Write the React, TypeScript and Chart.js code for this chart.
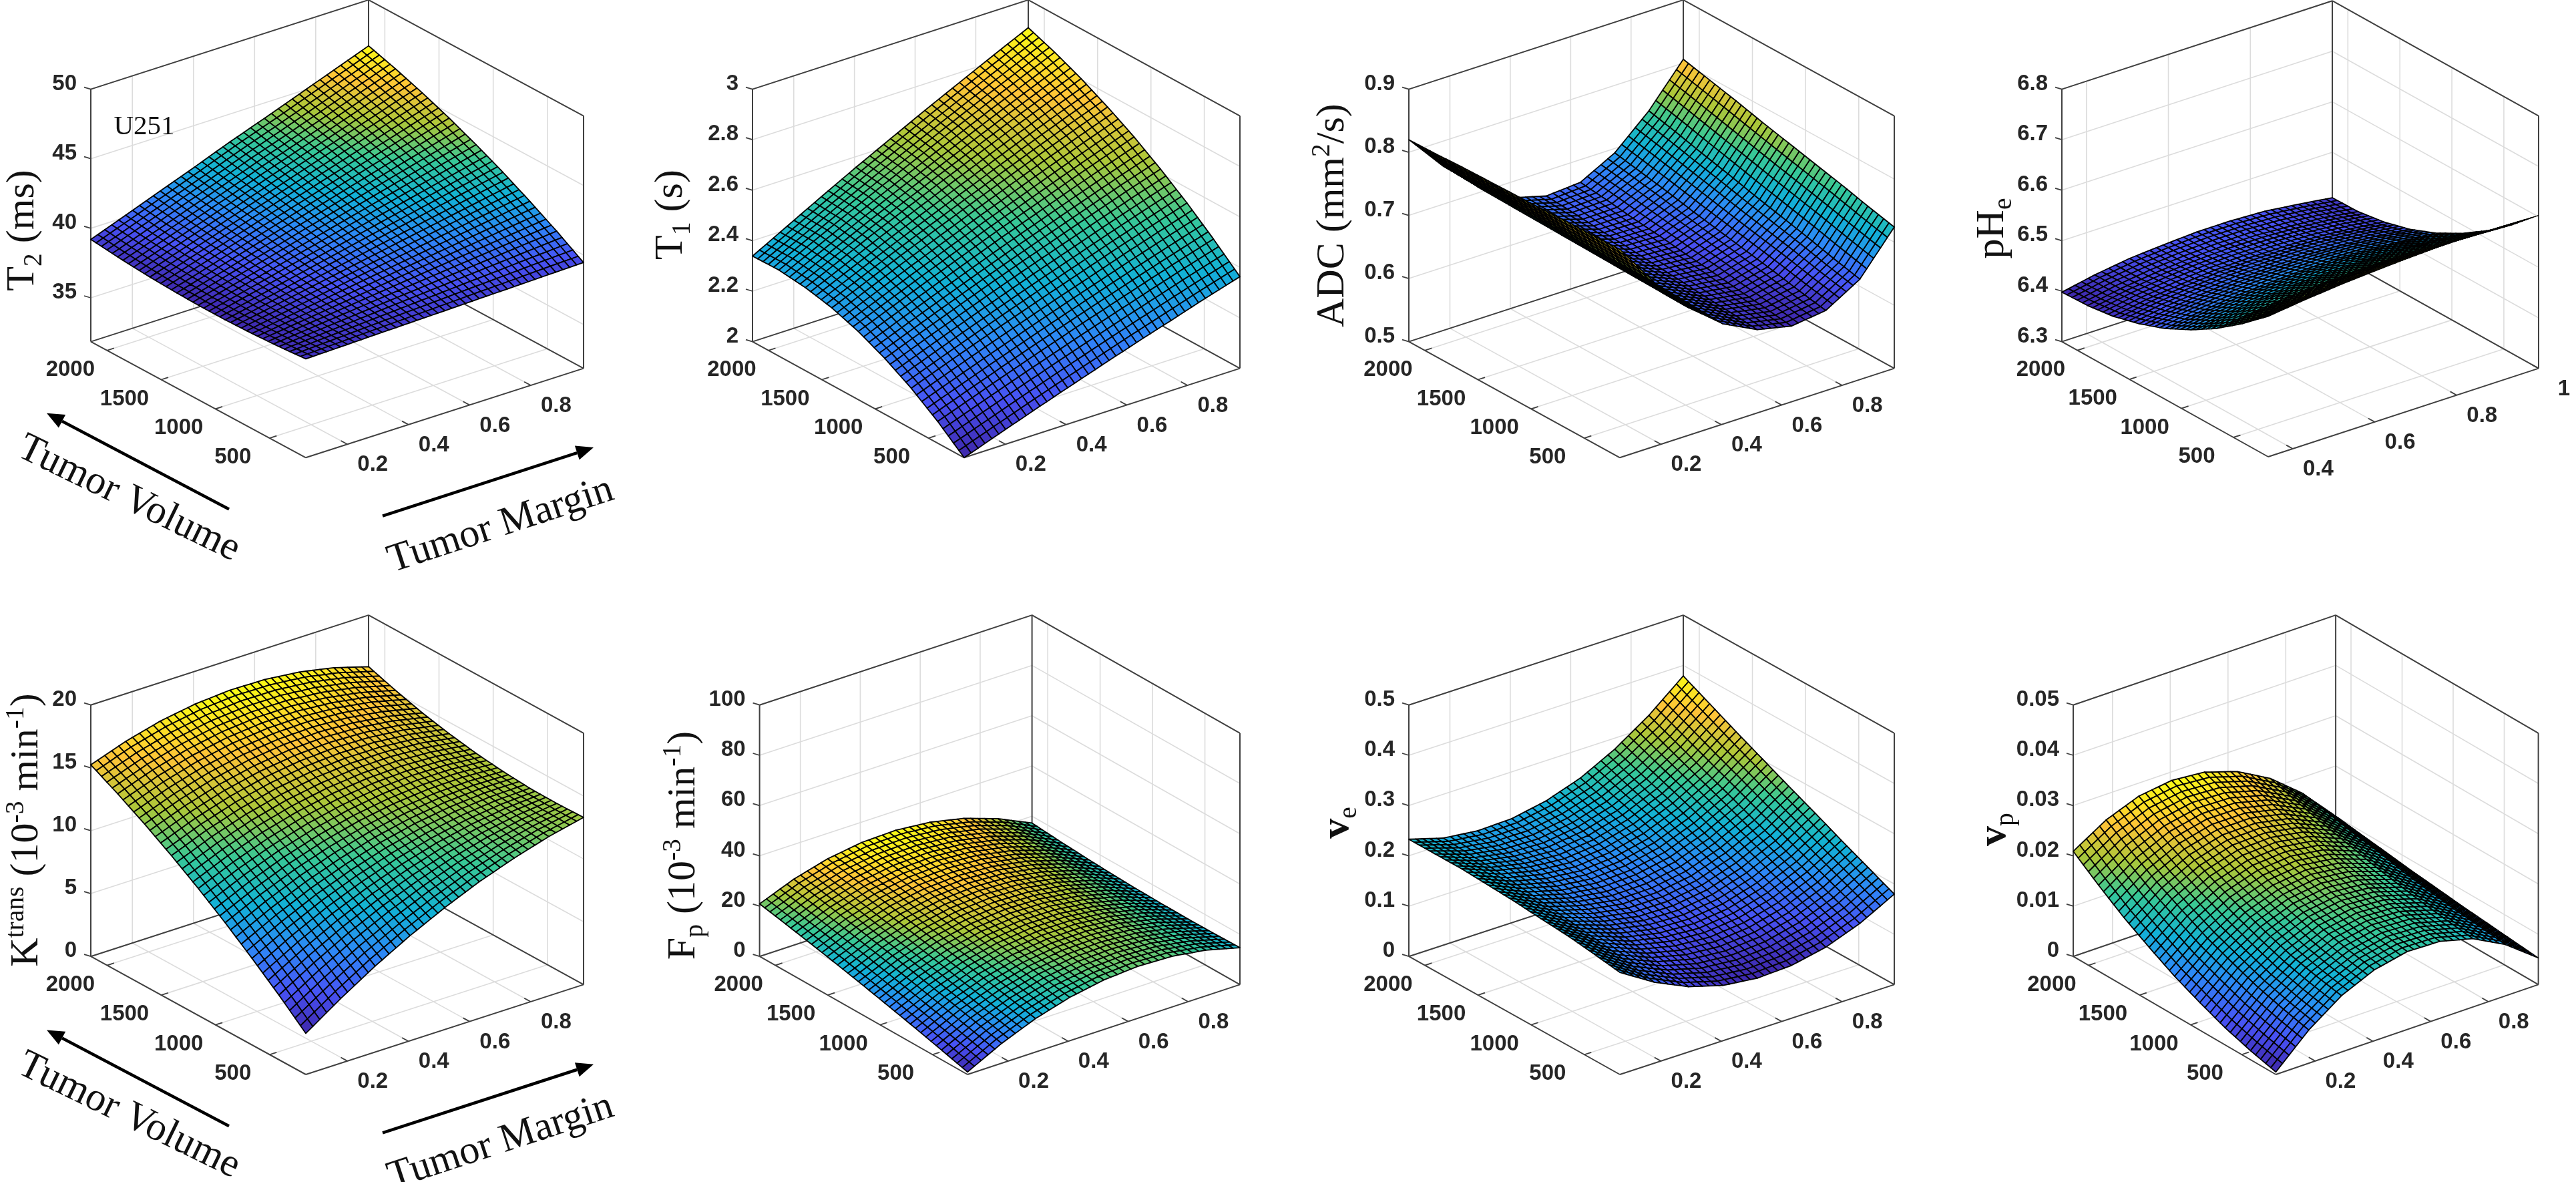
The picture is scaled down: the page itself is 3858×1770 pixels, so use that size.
import React, { useEffect, useRef } from "react";
import { Chart, registerables } from "chart.js";

Chart.register(...registerables);

// ---------- data (rows: smallest volume -> largest, columns: smallest margin -> largest) ----------
const volumeGrid = [166, 414, 662, 910, 1158, 1406, 1654, 1902, 2150];
const marginGrid = [0.064, 0.178, 0.291, 0.405, 0.519, 0.632, 0.746, 0.859, 0.973];
const phMarginGrid = [0.34, 0.42, 0.505, 0.587, 0.67, 0.752, 0.835, 0.917, 1.0];

const volumeTicks = [500, 1000, 1500, 2000];
const marginTicks = [0.2, 0.4, 0.6, 0.8];
const phMarginTicks = [0.4, 0.6, 0.8, 1];

const t2Ticks = [35, 40, 45, 50];
const t1Ticks = [2, 2.2, 2.4, 2.6, 2.8, 3];
const adcTicks = [0.5, 0.6, 0.7, 0.8, 0.9];
const phTicks = [6.3, 6.4, 6.5, 6.6, 6.7, 6.8];
const ktransTicks = [0, 5, 10, 15, 20];
const fpTicks = [0, 20, 40, 60, 80, 100];
const veTicks = [0, 0.1, 0.2, 0.3, 0.4, 0.5];
const vpTicks = [0, 0.01, 0.02, 0.03, 0.04, 0.05];

const t2Values = [
  [38.95, 39.01, 39.08, 39.14, 39.2, 39.27, 39.33, 39.4, 39.46],
  [38.79, 39.03, 39.26, 39.5, 39.73, 39.97, 40.2, 40.44, 40.67],
  [38.69, 39.08, 39.46, 39.85, 40.24, 40.62, 41.01, 41.39, 41.78],
  [38.63, 39.16, 39.68, 40.21, 40.74, 41.26, 41.78, 42.3, 42.82],
  [38.64, 39.29, 39.93, 40.58, 41.22, 41.86, 42.5, 43.12, 43.76],
  [38.7, 39.45, 40.2, 40.95, 41.69, 42.43, 43.17, 43.9, 44.63],
  [38.81, 39.64, 40.46, 41.3, 42.14, 42.96, 43.78, 44.59, 45.4],
  [38.98, 39.87, 40.76, 41.65, 42.58, 43.42, 44.3, 45.2, 46.09],
  [39.2, 40.14, 41.08, 42.02, 43.0, 43.89, 44.83, 45.76, 46.7],
];
const t1Values = [
  [2.0, 2.049, 2.097, 2.144, 2.19, 2.235, 2.278, 2.322, 2.363],
  [2.086, 2.136, 2.185, 2.233, 2.28, 2.325, 2.37, 2.413, 2.455],
  [2.16, 2.212, 2.262, 2.311, 2.359, 2.405, 2.452, 2.496, 2.54],
  [2.221, 2.275, 2.327, 2.379, 2.429, 2.477, 2.525, 2.572, 2.617],
  [2.27, 2.326, 2.381, 2.435, 2.489, 2.539, 2.59, 2.639, 2.687],
  [2.306, 2.366, 2.425, 2.482, 2.538, 2.592, 2.646, 2.698, 2.748],
  [2.329, 2.393, 2.457, 2.518, 2.578, 2.636, 2.694, 2.749, 2.803],
  [2.341, 2.41, 2.477, 2.543, 2.607, 2.67, 2.732, 2.791, 2.85],
  [2.339, 2.413, 2.486, 2.558, 2.627, 2.695, 2.761, 2.826, 2.89],
];
const adcValues = [
  [0.83, 0.76, 0.702, 0.659, 0.632, 0.62, 0.627, 0.659, 0.724],
  [0.829, 0.76, 0.703, 0.661, 0.636, 0.626, 0.635, 0.669, 0.734],
  [0.828, 0.76, 0.704, 0.663, 0.639, 0.631, 0.644, 0.68, 0.745],
  [0.826, 0.76, 0.705, 0.665, 0.643, 0.637, 0.652, 0.69, 0.755],
  [0.825, 0.76, 0.706, 0.667, 0.646, 0.642, 0.66, 0.7, 0.765],
  [0.824, 0.76, 0.707, 0.669, 0.65, 0.648, 0.668, 0.711, 0.775],
  [0.823, 0.76, 0.708, 0.671, 0.653, 0.653, 0.677, 0.721, 0.786],
  [0.821, 0.76, 0.709, 0.673, 0.657, 0.659, 0.685, 0.732, 0.796],
  [0.82, 0.76, 0.71, 0.675, 0.66, 0.664, 0.693, 0.742, 0.806],
];
const phValues = [
  [6.578, 6.586, 6.593, 6.598, 6.602, 6.605, 6.606, 6.605, 6.603],
  [6.535, 6.544, 6.55, 6.556, 6.559, 6.561, 6.561, 6.559, 6.556],
  [6.497, 6.505, 6.513, 6.518, 6.521, 6.523, 6.522, 6.52, 6.516],
  [6.466, 6.475, 6.483, 6.488, 6.491, 6.492, 6.491, 6.487, 6.482],
  [6.44, 6.45, 6.458, 6.463, 6.466, 6.467, 6.465, 6.46, 6.454],
  [6.421, 6.432, 6.44, 6.446, 6.448, 6.449, 6.446, 6.441, 6.433],
  [6.407, 6.419, 6.427, 6.433, 6.435, 6.435, 6.433, 6.427, 6.419],
  [6.4, 6.412, 6.421, 6.427, 6.43, 6.43, 6.426, 6.421, 6.411],
  [6.398, 6.411, 6.421, 6.426, 6.43, 6.43, 6.427, 6.419, 6.41],
];
const ktransValues = [
  [3.27, 5.14, 6.84, 8.36, 9.7, 10.87, 11.85, 12.67, 13.3],
  [5.14, 6.8, 8.29, 9.58, 10.68, 11.6, 12.34, 12.88, 13.24],
  [6.89, 8.38, 9.68, 10.76, 11.66, 12.36, 12.86, 13.16, 13.27],
  [8.55, 9.87, 10.99, 11.91, 12.63, 13.14, 13.44, 13.54, 13.44],
  [10.1, 11.3, 12.29, 13.06, 13.62, 13.96, 14.09, 14.0, 13.7],
  [11.54, 12.65, 13.53, 14.18, 14.61, 14.81, 14.8, 14.56, 14.09],
  [12.88, 13.91, 14.71, 15.28, 15.61, 15.71, 15.56, 15.18, 14.57],
  [14.11, 15.1, 15.84, 16.35, 16.6, 16.62, 16.38, 15.91, 15.19],
  [15.24, 16.21, 16.93, 17.39, 17.6, 17.55, 17.26, 16.71, 15.9],
];
const fpValues = [
  [1, 7.89, 13.32, 17.25, 19.7, 20.67, 20.17, 18.17, 14.7],
  [3.86, 10.45, 15.53, 19.11, 21.18, 21.76, 20.83, 18.4, 14.46],
  [6.62, 12.92, 17.7, 20.95, 22.68, 22.88, 21.57, 18.73, 14.37],
  [9.26, 15.31, 19.82, 22.79, 24.21, 24.09, 22.42, 19.21, 14.46],
  [11.8, 17.64, 21.92, 24.63, 25.77, 25.35, 23.37, 19.82, 14.7],
  [14.24, 19.9, 23.98, 26.47, 27.36, 26.68, 24.41, 20.55, 15.11],
  [16.57, 22.09, 26, 28.29, 28.98, 28.07, 25.55, 21.41, 15.67],
  [18.78, 24.18, 27.96, 30.11, 30.63, 29.52, 26.77, 22.41, 16.41],
  [20.9, 26.23, 29.9, 31.93, 32.3, 31.03, 28.1, 23.53, 17.3],
];
const veValues = [
  [0.203, 0.161, 0.13, 0.11, 0.102, 0.105, 0.119, 0.144, 0.18],
  [0.211, 0.171, 0.142, 0.124, 0.118, 0.123, 0.139, 0.166, 0.204],
  [0.218, 0.18, 0.154, 0.139, 0.134, 0.141, 0.159, 0.188, 0.228],
  [0.222, 0.187, 0.164, 0.151, 0.149, 0.158, 0.179, 0.21, 0.253],
  [0.227, 0.194, 0.174, 0.163, 0.164, 0.175, 0.199, 0.232, 0.277],
  [0.23, 0.201, 0.183, 0.175, 0.179, 0.193, 0.219, 0.255, 0.302],
  [0.233, 0.207, 0.192, 0.186, 0.193, 0.21, 0.239, 0.277, 0.327],
  [0.233, 0.21, 0.198, 0.196, 0.206, 0.226, 0.258, 0.3, 0.353],
  [0.233, 0.213, 0.205, 0.207, 0.22, 0.243, 0.278, 0.323, 0.379],
];
const vpValues = [
  [0.0005, 0.0066, 0.0112, 0.0141, 0.0155, 0.0153, 0.0136, 0.0102, 0.0053],
  [0.0018, 0.0078, 0.0122, 0.015, 0.0163, 0.016, 0.0142, 0.0108, 0.0058],
  [0.0034, 0.0092, 0.0134, 0.0162, 0.0173, 0.0169, 0.0149, 0.0113, 0.0063],
  [0.0055, 0.0111, 0.0151, 0.0176, 0.0185, 0.0179, 0.0158, 0.012, 0.0068],
  [0.0078, 0.0131, 0.017, 0.0192, 0.02, 0.0191, 0.0168, 0.0128, 0.0074],
  [0.0106, 0.0157, 0.0192, 0.0212, 0.0216, 0.0206, 0.018, 0.0139, 0.008],
  [0.0136, 0.0184, 0.0216, 0.0233, 0.0234, 0.0221, 0.0192, 0.0147, 0.0087],
  [0.0171, 0.0215, 0.0244, 0.0257, 0.0255, 0.0238, 0.0205, 0.0158, 0.0094],
  [0.0209, 0.0249, 0.0274, 0.0283, 0.0277, 0.0256, 0.022, 0.0168, 0.0101],
];

// ---------- layout ----------
const W = 3858;
const H = 1770;
const HATCH = 5; // mesh lines hatched inside each typed cell
const PARULA = [
  [62, 38, 168], [72, 82, 244], [46, 135, 247], [18, 177, 214],
  [55, 200, 151], [171, 199, 57], [254, 195, 56], [249, 251, 21],
];
const SERIF = '"Liberation Serif", serif';
const SANS = '"Liberation Sans", sans-serif';

type Seg = [string, string?];
const panels: any[] = [
  { values: t2Values, zMin: 31.85, zMax: 50, zTicks: t2Ticks, box: [0, 0, 960, 880], F: [458, 685.3], R: [874, 551.6], L: [136, 511.6], H: 378, label: [["T"], ["2", "sub"], [" (ms)"]], labelAt: [31, 345], note: true, arrows: true, mX: marginGrid, mT: marginTicks, mMin: 0.064, mMax: 0.973 },
  { values: t1Values, zMin: 2, zMax: 3, zTicks: t1Ticks, box: [960, 0, 960, 880], F: [1444, 685.3], R: [1857, 551.6], L: [1127, 511.6], H: 378, label: [["T"], ["1", "sub"], [" (s)"]], labelAt: [1002, 321.5], mX: marginGrid, mT: marginTicks, mMin: 0.064, mMax: 0.973 },
  { values: adcValues, zMin: 0.5, zMax: 0.9, zTicks: adcTicks, box: [1920, 0, 960, 880], F: [2426, 685.3], R: [2837, 551.6], L: [2110, 511.6], H: 378, label: [["ADC (mm"], ["2", "sup"], ["/s)"]], labelAt: [1993, 322.6], mX: marginGrid, mT: marginTicks, mMin: 0.064, mMax: 0.973 },
  { values: phValues, zMin: 6.3, zMax: 6.8, zTicks: phTicks, box: [2880, 0, 978, 880], F: [3397, 684], R: [3802, 551.6], L: [3088, 511.6], H: 378, label: [["pH"], ["e", "sub"]], labelAt: [2981, 342], mX: phMarginGrid, mT: phMarginTicks, mMin: 0.34, mMax: 1.0 },
  { values: ktransValues, zMin: 0, zMax: 20, zTicks: ktransTicks, box: [0, 880, 960, 890], F: [458, 1609], R: [874, 1474.4], L: [136, 1432.2], H: 376.5, label: [["K"], ["trans", "sup"], [" (10"], ["-3", "sup"], [" min"], ["-1", "sup"], [")"]], labelAt: [37, 1243], arrows: true, mX: marginGrid, mT: marginTicks, mMin: 0.064, mMax: 0.973 },
  { values: fpValues, zMin: 0, zMax: 100, zTicks: fpTicks, box: [960, 880, 960, 890], F: [1449, 1609], R: [1857, 1474.4], L: [1137.6, 1432.2], H: 376.5, label: [["F"], ["p", "sub"], [" (10"], ["-3", "sup"], [" min"], ["-1", "sup"], [")"]], labelAt: [1021, 1266], mX: marginGrid, mT: marginTicks, mMin: 0.064, mMax: 0.973 },
  { values: veValues, zMin: 0, zMax: 0.5, zTicks: veTicks, box: [1920, 880, 960, 890], F: [2426, 1609], R: [2837, 1474.4], L: [2110, 1432.2], H: 376.5, label: [["v", "bold"], ["e", "sub"]], labelAt: [2000, 1232], mX: marginGrid, mT: marginTicks, mMin: 0.064, mMax: 0.973 },
  { values: vpValues, zMin: 0, zMax: 0.05, zTicks: vpTicks, box: [2880, 880, 978, 890], F: [3408.5, 1609], R: [3801.6, 1474.4], L: [3105, 1432.2], H: 376.5, label: [["v", "bold"], ["p", "sub"]], labelAt: [2984, 1242], mX: marginGrid, mT: marginTicks, mMin: 0.064, mMax: 0.973 },
];

function parula(f: number) {
  const t = Math.max(0, Math.min(1, f)) * (PARULA.length - 1);
  const i = Math.min(PARULA.length - 2, Math.floor(t));
  const a = PARULA[i], b = PARULA[i + 1], k = t - i;
  return `rgb(${a[0] + (b[0] - a[0]) * k},${a[1] + (b[1] - a[1]) * k},${a[2] + (b[2] - a[2]) * k})`;
}

function drawRich(ctx: any, segs: Seg[], size: number) {
  const part = segs.map(([text, kind]) => {
    const s = kind === "sub" || kind === "sup" ? size * 0.66 : size;
    const font = `${kind === "bold" ? "bold " : ""}${s}px ${SERIF}`;
    ctx.font = font;
    return { text, kind, font, w: ctx.measureText(text).width };
  });
  const total = part.reduce((a, p) => a + p.w, 0);
  let x = -total / 2;
  part.forEach((p) => {
    ctx.font = p.font;
    const dy = p.kind === "sub" ? size * 0.2 : p.kind === "sup" ? -size * 0.36 : 0;
    ctx.fillText(p.text, x, size * 0.32 + dy);
    x += p.w;
  });
}

function arrow(ctx: any, tail: number[], head: number[]) {
  const ang = Math.atan2(head[1] - tail[1], head[0] - tail[0]);
  const len = 26, hw = 11;
  const bx = head[0] - Math.cos(ang) * len, by = head[1] - Math.sin(ang) * len;
  ctx.strokeStyle = "#000";
  ctx.lineWidth = 4.5;
  ctx.beginPath();
  ctx.moveTo(tail[0], tail[1]);
  ctx.lineTo(bx, by);
  ctx.stroke();
  ctx.fillStyle = "#000";
  ctx.beginPath();
  ctx.moveTo(head[0], head[1]);
  ctx.lineTo(bx - Math.sin(ang) * hw, by + Math.cos(ang) * hw);
  ctx.lineTo(bx + Math.sin(ang) * hw, by - Math.cos(ang) * hw);
  ctx.closePath();
  ctx.fill();
}

const surfacePlugin = {
  id: "surface3d",
  afterDraw(chart: any) {
    const p = chart.options.plugins.surface3d.panel;
    const { ctx, scales } = chart;
    const dec = (s: any, v: number) => s.getDecimalForPixel(s.getPixelForValue(v));
    const du = [p.R[0] - p.F[0], p.R[1] - p.F[1]];
    const dt = [p.L[0] - p.F[0], p.L[1] - p.F[1]];
    // u, t, w are fractions of the margin, volume and value axes
    const at = (u: number, t: number, w: number) => [p.F[0] + u * du[0] + t * dt[0], p.F[1] + u * du[1] + t * dt[1] - w * p.H];
    const U = (m: number) => dec(scales.x, m);
    const T = (v: number) => dec(scales.v, v);
    const Z = (z: number) => dec(scales.y, z);
    const line = (a: number[], b: number[]) => { ctx.beginPath(); ctx.moveTo(a[0], a[1]); ctx.lineTo(b[0], b[1]); ctx.stroke(); };

    ctx.save();
    ctx.translate(-p.box[0], -p.box[1]);
    ctx.lineCap = "butt";

    // grid on the two walls and the floor
    ctx.strokeStyle = "#dcdcdc";
    ctx.lineWidth = 1.6;
    p.mT.forEach((m: number) => {
      const u = U(m);
      line(at(u, 0, 0), at(u, 1, 0));
      line(at(u, 1, 0), at(u, 1, 1));
    });
    volumeTicks.forEach((v) => {
      const t = T(v);
      line(at(0, t, 0), at(1, t, 0));
      line(at(1, t, 0), at(1, t, 1));
    });
    p.zTicks.forEach((z: number) => {
      const w = Z(z);
      line(at(0, 1, w), at(1, 1, w));
      line(at(1, 1, w), at(1, 0, w));
    });

    // box edges
    ctx.strokeStyle = "#404040";
    ctx.lineWidth = 2;
    [
      [0, 1, 0, 0, 1, 1], [1, 0, 0, 1, 0, 1], [1, 1, 0, 1, 1, 1],
      [0, 1, 1, 1, 1, 1], [1, 1, 1, 1, 0, 1],
      [0, 1, 0, 0, 0, 0], [0, 0, 0, 1, 0, 0],
      [0, 1, 0, 1, 1, 0], [1, 1, 0, 1, 0, 0],
    ].forEach((e) => line(at(e[0], e[1], e[2]), at(e[3], e[4], e[5])));

    // ticks
    ctx.lineWidth = 1.8;
    const ulen = Math.hypot(du[0], du[1]), tlen = Math.hypot(dt[0], dt[1]);
    ctx.fillStyle = "#262626";
    ctx.font = `bold 33px ${SANS}`;
    ctx.textBaseline = "middle";
    p.zTicks.forEach((z: number) => {
      const a = at(0, 1, Z(z));
      line(a, [a[0] - 10, a[1] - 3]);
      ctx.textAlign = "right";
      ctx.fillText(String(z), a[0] - 21, a[1] - 8);
    });
    ctx.textAlign = "center";
    volumeTicks.forEach((v) => {
      const a = at(0, T(v), 0);
      line(a, [a[0] + (du[0] / ulen) * 11, a[1] + (du[1] / ulen) * 11]);
      ctx.fillText(String(v), a[0] - 55, a[1] + 29);
    });
    p.mT.forEach((m: number) => {
      const a = at(U(m), 0, 0);
      line(a, [a[0] + (dt[0] / tlen) * 11, a[1] + (dt[1] / tlen) * 11]);
      ctx.fillText(String(m), a[0] + 38, a[1] + 31);
    });

    // surface: the library scales turn each point into axis fractions, drawn back to front
    const pts = chart.data.datasets[0].data;
    const n = p.values.length;
    const cell = (row: number, col: number) => pts[row * n + col];
    const zs = pts.map((q: any) => q.y);
    const lo = Math.min(...zs), hi = Math.max(...zs);
    ctx.strokeStyle = "#000";
    ctx.lineJoin = "round";
    for (let r = n - 2; r >= 0; r--) {
      for (let c = n - 2; c >= 0; c--) {
        const q00 = cell(r, c), q01 = cell(r, c + 1), q10 = cell(r + 1, c), q11 = cell(r + 1, c + 1);
        const u0 = U(q00.x), u1 = U(q01.x), t0 = T(q00.v), t1 = T(q10.v);
        const w00 = Z(q00.y), w01 = Z(q01.y), w10 = Z(q10.y), w11 = Z(q11.y);
        const sample = (a: number, b: number) => {
          const w = (w00 * (1 - a) + w01 * a) * (1 - b) + (w10 * (1 - a) + w11 * a) * b;
          return at(u0 + (u1 - u0) * a, t0 + (t1 - t0) * b, w);
        };
        const shade = (a: number, b: number) => ((q00.y * (1 - a) + q01.y * a) * (1 - b) + (q10.y * (1 - a) + q11.y * a) * b - lo) / (hi - lo);
        for (let i = HATCH - 1; i >= 0; i--) {
          for (let j = HATCH - 1; j >= 0; j--) {
            const b0 = i / HATCH, b1 = (i + 1) / HATCH, a0 = j / HATCH, a1 = (j + 1) / HATCH;
            const A = sample(a0, b0), B = sample(a1, b0), C = sample(a1, b1), D = sample(a0, b1);
            const area = Math.abs((C[0] - A[0]) * (D[1] - B[1]) - (D[0] - B[0]) * (C[1] - A[1])) / 2;
            ctx.lineWidth = Math.max(1, Math.min(1.8, Math.sqrt(area) * 0.35));
            ctx.beginPath();
            ctx.moveTo(A[0], A[1]);
            ctx.lineTo(B[0], B[1]);
            ctx.lineTo(C[0], C[1]);
            ctx.lineTo(D[0], D[1]);
            ctx.closePath();
            ctx.fillStyle = parula(shade((a0 + a1) / 2, (b0 + b1) / 2));
            ctx.fill();
            ctx.stroke();
          }
        }
      }
    }

    // value axis title
    ctx.save();
    ctx.fillStyle = "#111";
    ctx.textAlign = "left";
    ctx.textBaseline = "alphabetic";
    ctx.translate(p.labelAt[0], p.labelAt[1]);
    ctx.rotate(-Math.PI / 2);
    drawRich(ctx, p.label, 60);
    ctx.restore();

    if (p.note) {
      ctx.fillStyle = "#111";
      ctx.font = `41px ${SERIF}`;
      ctx.textAlign = "center";
      ctx.textBaseline = "middle";
      ctx.fillText("U251", 216, 190.6);
    }

    if (p.arrows) {
      const dy = p.F[1] - 685.3;
      arrow(ctx, [343, 762.5 + dy], [70, 618.7 + dy]);
      arrow(ctx, [573, 772.7 + dy], [889, 670 + dy]);
      ctx.fillStyle = "#111";
      ctx.font = `60px ${SERIF}`;
      ctx.textAlign = "center";
      ctx.textBaseline = "middle";
      ctx.save();
      ctx.translate(193, 747 + dy);
      ctx.rotate((26 * Math.PI) / 180);
      ctx.fillText("Tumor Volume", 0, 0);
      ctx.restore();
      ctx.save();
      ctx.translate(750, 787 + dy);
      ctx.rotate((-18.2 * Math.PI) / 180);
      ctx.fillText("Tumor Margin", 0, 0);
      ctx.restore();
    }
    ctx.restore();
  },
};

function Panel({ panel }: { panel: any }) {
  const ref = useRef<HTMLCanvasElement | null>(null);
  useEffect(() => {
    const points: any[] = [];
    panel.values.forEach((row: number[], r: number) =>
      row.forEach((z, c) => points.push({ x: panel.mX[c], y: z, v: volumeGrid[r] }))
    );
    const chart = new Chart(ref.current as HTMLCanvasElement, {
      type: "scatter",
      data: { datasets: [{ data: points, pointRadius: 0, showLine: false }] },
      options: {
        animation: false,
        responsive: false,
        events: [],
        layout: { padding: 0 },
        scales: {
          x: { type: "linear", display: false, min: panel.mMin, max: panel.mMax },
          y: { type: "linear", display: false, min: panel.zMin, max: panel.zMax },
          v: { type: "linear", axis: "x", display: false, min: volumeGrid[0], max: volumeGrid[volumeGrid.length - 1] },
        },
        plugins: { legend: { display: false }, tooltip: { enabled: false }, surface3d: { panel } },
      },
      plugins: [surfacePlugin],
    } as any);
    return () => chart.destroy();
  }, [panel]);
  const [x, y, w, h] = panel.box;
  return <canvas ref={ref} width={w} height={h} style={{ position: "absolute", left: x, top: y, width: w, height: h, filter: "blur(0.6px)" }} />;
}

export default function App() {
  useEffect(() => {
    document.body.style.margin = "0";
    document.body.style.overflow = "hidden";
  }, []);
  return (
    <div style={{ position: "absolute", left: 0, top: 0, width: W, height: H, overflow: "hidden", background: "#fff" }}>
      {panels.map((p, i) => (
        <Panel key={i} panel={p} />
      ))}
    </div>
  );
}
